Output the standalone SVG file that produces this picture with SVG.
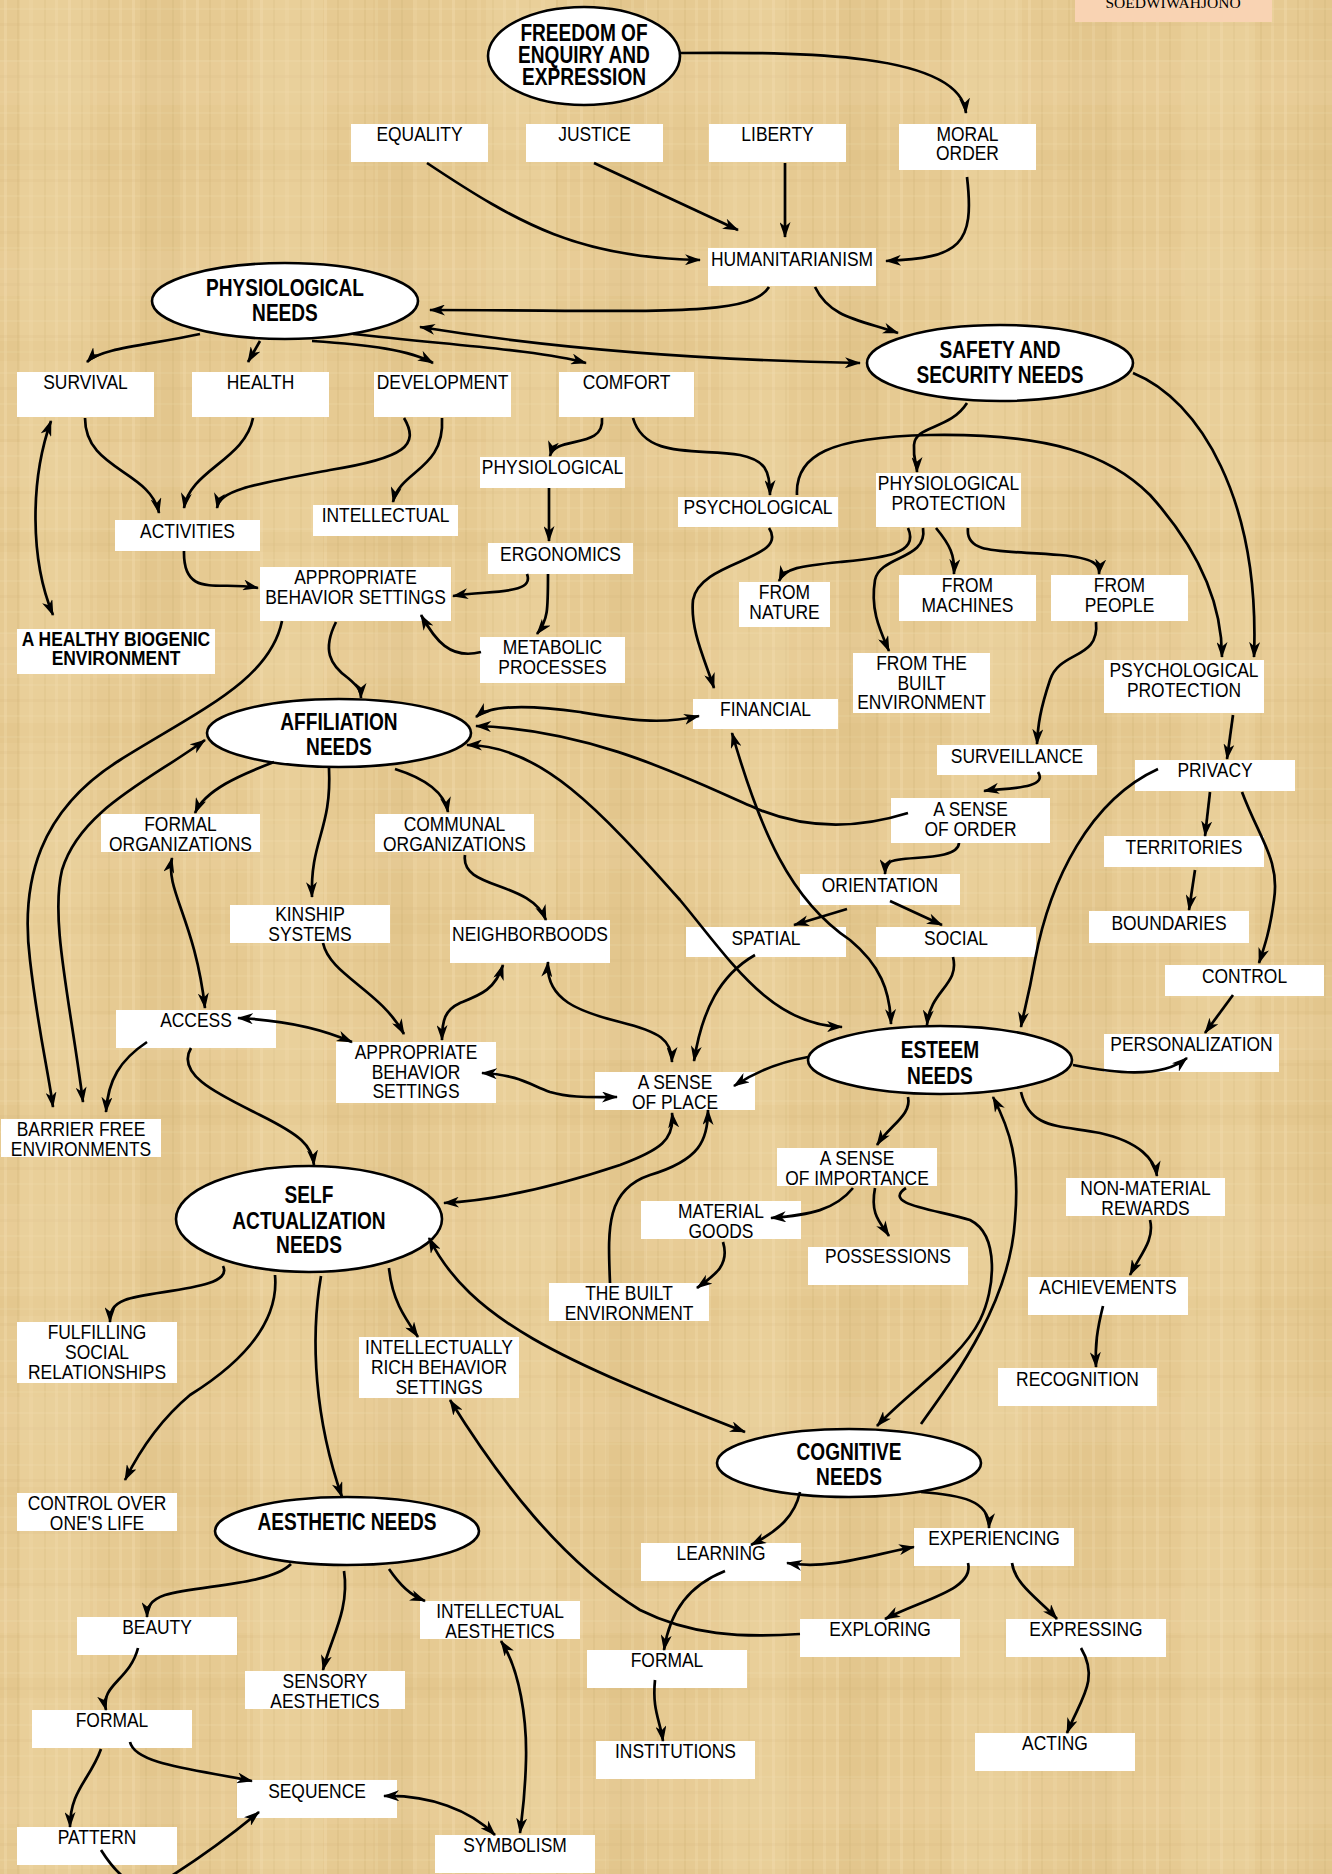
<svg xmlns="http://www.w3.org/2000/svg" width="1332" height="1874" viewBox="0 0 1332 1874">
<defs>
<style>
.t{font-family:"Liberation Sans",Arial,sans-serif;font-size:21px;text-anchor:middle;fill:#000;transform-box:fill-box;transform-origin:center;transform:scaleX(0.83)}
.b{font-weight:bold;font-size:23px}
.bx{fill:#fff}
.el{fill:#fff;stroke:#000;stroke-width:2.6}
.c path{fill:none;stroke:#000;stroke-width:2.7;marker-end:url(#ah)}
.c path.d{marker-start:url(#ah)}
</style>
<marker id="ah" markerUnits="userSpaceOnUse" markerWidth="16" markerHeight="11" viewBox="0 0 16 11" refX="15" refY="5.5" orient="auto-start-reverse">
<path d="M0,0 L16,5.5 L0,11 L4.5,5.5 z" fill="#000"/>
</marker>
<pattern id="pap" width="64" height="52" patternUnits="userSpaceOnUse">
<rect width="64" height="52" fill="#e6ca92"/>
<rect x="4" width="3" height="52" fill="#f3dfb0" opacity=".35"/>
<rect x="17" width="2" height="52" fill="#cdae70" opacity=".22"/>
<rect x="29" width="4" height="52" fill="#f0d9a6" opacity=".3"/>
<rect x="44" width="2" height="52" fill="#c9a968" opacity=".2"/>
<rect x="55" width="3" height="52" fill="#f2dfb0" opacity=".3"/>
<rect y="8" width="64" height="2" fill="#f1dcab" opacity=".22"/>
<rect y="23" width="64" height="3" fill="#cfb075" opacity=".15"/>
<rect y="39" width="64" height="2" fill="#f0d9a6" opacity=".22"/>
</pattern>
<pattern id="pap2" width="233" height="191" patternUnits="userSpaceOnUse">
<rect x="20" y="0" width="70" height="191" fill="#f4e2b6" opacity=".18"/>
<rect x="140" y="0" width="40" height="191" fill="#d2b273" opacity=".14"/>
<rect x="0" y="60" width="233" height="45" fill="#f3e0b2" opacity=".14"/>
<rect x="0" y="150" width="233" height="20" fill="#d0b070" opacity=".1"/>
</pattern>
</defs>
<rect width="1332" height="1874" fill="url(#pap)"/>
<rect width="1332" height="1874" fill="url(#pap2)"/>

<g id="author"><rect x="1075" y="0" width="197" height="22" fill="#f9d3b3"/><text x="1173" y="8" font-family="Liberation Serif,serif" font-size="15.5" text-anchor="middle">SOEDWIWAHJONO</text></g>

<g id="freedom"><ellipse class="el" cx="584" cy="56" rx="96" ry="49"/><text class="t b" x="584" y="41">FREEDOM OF</text><text class="t b" x="584" y="63">ENQUIRY AND</text><text class="t b" x="584" y="85">EXPRESSION</text></g>
<g id="equality"><rect class="bx" x="351" y="124" width="137" height="38"/><text class="t" x="419.5" y="141">EQUALITY</text></g>
<g id="justice"><rect class="bx" x="526" y="124" width="137" height="38"/><text class="t" x="594.5" y="141">JUSTICE</text></g>
<g id="liberty"><rect class="bx" x="709" y="124" width="137" height="38"/><text class="t" x="777.5" y="141">LIBERTY</text></g>
<g id="moral"><rect class="bx" x="899" y="124" width="137" height="46"/><text class="t" x="967.5" y="141">MORAL</text><text class="t" x="967.5" y="160">ORDER</text></g>
<g id="humanitarianism"><rect class="bx" x="708" y="248" width="168" height="38"/><text class="t" x="792" y="266">HUMANITARIANISM</text></g>

<g id="physneeds"><ellipse class="el" cx="285" cy="301" rx="133" ry="38"/><text class="t b" x="285" y="296">PHYSIOLOGICAL</text><text class="t b" x="285" y="321">NEEDS</text></g>
<g id="safety"><ellipse class="el" cx="1000" cy="363" rx="133" ry="38"/><text class="t b" x="1000" y="358">SAFETY AND</text><text class="t b" x="1000" y="383">SECURITY NEEDS</text></g>

<g id="survival"><rect class="bx" x="17" y="372" width="137" height="45"/><text class="t" x="85.5" y="389">SURVIVAL</text></g>
<g id="health"><rect class="bx" x="192" y="372" width="137" height="45"/><text class="t" x="260.5" y="389">HEALTH</text></g>
<g id="development"><rect class="bx" x="374" y="372" width="137" height="45"/><text class="t" x="442.5" y="389">DEVELOPMENT</text></g>
<g id="comfort"><rect class="bx" x="559" y="372" width="135" height="45"/><text class="t" x="626.5" y="389">COMFORT</text></g>
<g id="physiological"><rect class="bx" x="480" y="457" width="145" height="31"/><text class="t" x="552.5" y="474">PHYSIOLOGICAL</text></g>
<g id="activities"><rect class="bx" x="115" y="520" width="145" height="31"/><text class="t" x="187.5" y="538">ACTIVITIES</text></g>
<g id="intellectual"><rect class="bx" x="313" y="505" width="145" height="31"/><text class="t" x="385.5" y="522">INTELLECTUAL</text></g>
<g id="ergonomics"><rect class="bx" x="488" y="543" width="145" height="31"/><text class="t" x="560.5" y="561">ERGONOMICS</text></g>
<g id="abs1"><rect class="bx" x="260" y="567" width="191" height="54"/><text class="t" x="355.5" y="584">APPROPRIATE</text><text class="t" x="355.5" y="604">BEHAVIOR SETTINGS</text></g>
<g id="metabolic"><rect class="bx" x="480" y="637" width="145" height="46"/><text class="t" x="552.5" y="654">METABOLIC</text><text class="t" x="552.5" y="674">PROCESSES</text></g>
<g id="biogenic"><rect class="bx" x="17" y="629" width="198" height="45"/><text class="t" x="116" y="646" font-weight="bold">A HEALTHY BIOGENIC</text><text class="t" x="116" y="665" font-weight="bold">ENVIRONMENT</text></g>

<g id="affiliation"><ellipse class="el" cx="339" cy="733" rx="132" ry="34"/><text class="t b" x="339" y="730">AFFILIATION</text><text class="t b" x="339" y="755">NEEDS</text></g>
<g id="formalorg"><rect class="bx" x="101" y="814" width="159" height="38"/><text class="t" x="180.5" y="831">FORMAL</text><text class="t" x="180.5" y="851">ORGANIZATIONS</text></g>
<g id="communal"><rect class="bx" x="375" y="814" width="159" height="38"/><text class="t" x="454.5" y="831">COMMUNAL</text><text class="t" x="454.5" y="851">ORGANIZATIONS</text></g>
<g id="kinship"><rect class="bx" x="230" y="905" width="160" height="38"/><text class="t" x="310" y="921">KINSHIP</text><text class="t" x="310" y="941">SYSTEMS</text></g>
<g id="neighbor"><rect class="bx" x="450" y="920" width="160" height="43"/><text class="t" x="530" y="941">NEIGHBORBOODS</text></g>

<g id="psychological"><rect class="bx" x="678" y="497" width="160" height="30"/><text class="t" x="758" y="514">PSYCHOLOGICAL</text></g>
<g id="physprot"><rect class="bx" x="876" y="473" width="145" height="54"/><text class="t" x="948.5" y="490">PHYSIOLOGICAL</text><text class="t" x="948.5" y="510">PROTECTION</text></g>
<g id="fromnature"><rect class="bx" x="739" y="582" width="91" height="45"/><text class="t" x="784.5" y="599">FROM</text><text class="t" x="784.5" y="619">NATURE</text></g>
<g id="frommachines"><rect class="bx" x="899" y="575" width="137" height="46"/><text class="t" x="967.5" y="592">FROM</text><text class="t" x="967.5" y="612">MACHINES</text></g>
<g id="frompeople"><rect class="bx" x="1051" y="575" width="137" height="46"/><text class="t" x="1119.5" y="592">FROM</text><text class="t" x="1119.5" y="612">PEOPLE</text></g>
<g id="frombuilt"><rect class="bx" x="853" y="653" width="137" height="60"/><text class="t" x="921.5" y="670">FROM THE</text><text class="t" x="921.5" y="690">BUILT</text><text class="t" x="921.5" y="709">ENVIRONMENT</text></g>
<g id="psychprot"><rect class="bx" x="1104" y="660" width="160" height="53"/><text class="t" x="1184" y="677">PSYCHOLOGICAL</text><text class="t" x="1184" y="697">PROTECTION</text></g>
<g id="financial"><rect class="bx" x="693" y="699" width="145" height="30"/><text class="t" x="765.5" y="716">FINANCIAL</text></g>
<g id="surveillance"><rect class="bx" x="937" y="745" width="160" height="30"/><text class="t" x="1017" y="763">SURVEILLANCE</text></g>
<g id="privacy"><rect class="bx" x="1135" y="760" width="160" height="31"/><text class="t" x="1215" y="777">PRIVACY</text></g>
<g id="order"><rect class="bx" x="891" y="798" width="159" height="45"/><text class="t" x="970.5" y="816">A SENSE</text><text class="t" x="970.5" y="836">OF ORDER</text></g>
<g id="territories"><rect class="bx" x="1104" y="836" width="160" height="31"/><text class="t" x="1184" y="854">TERRITORIES</text></g>
<g id="orientation"><rect class="bx" x="800" y="874" width="160" height="31"/><text class="t" x="880" y="892">ORIENTATION</text></g>
<g id="spatial"><rect class="bx" x="686" y="927" width="160" height="30"/><text class="t" x="766" y="945">SPATIAL</text></g>
<g id="social"><rect class="bx" x="876" y="927" width="160" height="30"/><text class="t" x="956" y="945">SOCIAL</text></g>
<g id="boundaries"><rect class="bx" x="1089" y="911" width="160" height="32"/><text class="t" x="1169" y="930">BOUNDARIES</text></g>
<g id="control"><rect class="bx" x="1165" y="965" width="159" height="31"/><text class="t" x="1244.5" y="983">CONTROL</text></g>
<g id="personalization"><rect class="bx" x="1104" y="1034" width="175" height="38"/><text class="t" x="1191.5" y="1051">PERSONALIZATION</text></g>

<g id="esteem"><ellipse class="el" cx="940" cy="1060" rx="132" ry="34"/><text class="t b" x="940" y="1058">ESTEEM</text><text class="t b" x="940" y="1084">NEEDS</text></g>
<g id="importance"><rect class="bx" x="777" y="1148" width="160" height="38"/><text class="t" x="857" y="1165">A SENSE</text><text class="t" x="857" y="1185">OF IMPORTANCE</text></g>
<g id="material"><rect class="bx" x="641" y="1201" width="160" height="38"/><text class="t" x="721" y="1218">MATERIAL</text><text class="t" x="721" y="1238">GOODS</text></g>
<g id="possessions"><rect class="bx" x="808" y="1247" width="160" height="38"/><text class="t" x="888" y="1263">POSSESSIONS</text></g>
<g id="nonmaterial"><rect class="bx" x="1066" y="1178" width="159" height="38"/><text class="t" x="1145.5" y="1195">NON-MATERIAL</text><text class="t" x="1145.5" y="1215">REWARDS</text></g>
<g id="achievements"><rect class="bx" x="1028" y="1277" width="160" height="38"/><text class="t" x="1108" y="1294">ACHIEVEMENTS</text></g>
<g id="recognition"><rect class="bx" x="998" y="1368" width="159" height="38"/><text class="t" x="1077.5" y="1386">RECOGNITION</text></g>

<g id="access"><rect class="bx" x="116" y="1010" width="160" height="38"/><text class="t" x="196" y="1027">ACCESS</text></g>
<g id="abs2"><rect class="bx" x="336" y="1042" width="160" height="61"/><text class="t" x="416" y="1059">APPROPRIATE</text><text class="t" x="416" y="1079">BEHAVIOR</text><text class="t" x="416" y="1098">SETTINGS</text></g>
<g id="place"><rect class="bx" x="595" y="1072" width="160" height="38"/><text class="t" x="675" y="1089">A SENSE</text><text class="t" x="675" y="1109">OF PLACE</text></g>
<g id="barrier"><rect class="bx" x="1" y="1119" width="160" height="38"/><text class="t" x="81" y="1136">BARRIER FREE</text><text class="t" x="81" y="1156">ENVIRONMENTS</text></g>

<g id="selfact"><ellipse class="el" cx="309" cy="1219" rx="133" ry="53"/><text class="t b" x="309" y="1203">SELF</text><text class="t b" x="309" y="1229">ACTUALIZATION</text><text class="t b" x="309" y="1253">NEEDS</text></g>
<g id="builtenv"><rect class="bx" x="549" y="1283" width="160" height="38"/><text class="t" x="629" y="1300">THE BUILT</text><text class="t" x="629" y="1320">ENVIRONMENT</text></g>
<g id="fulfilling"><rect class="bx" x="17" y="1322" width="160" height="61"/><text class="t" x="97" y="1339">FULFILLING</text><text class="t" x="97" y="1359">SOCIAL</text><text class="t" x="97" y="1379">RELATIONSHIPS</text></g>
<g id="intrich"><rect class="bx" x="359" y="1337" width="160" height="61"/><text class="t" x="439" y="1354">INTELLECTUALLY</text><text class="t" x="439" y="1374">RICH BEHAVIOR</text><text class="t" x="439" y="1394">SETTINGS</text></g>
<g id="controllife"><rect class="bx" x="17" y="1493" width="160" height="38"/><text class="t" x="97" y="1510">CONTROL OVER</text><text class="t" x="97" y="1530">ONE'S LIFE</text></g>

<g id="aesthetic"><ellipse class="el" cx="347" cy="1531" rx="132" ry="34"/><text class="t b" x="347" y="1530">AESTHETIC NEEDS</text></g>
<g id="beauty"><rect class="bx" x="77" y="1617" width="160" height="38"/><text class="t" x="157" y="1634">BEAUTY</text></g>
<g id="intaesth"><rect class="bx" x="420" y="1601" width="160" height="38"/><text class="t" x="500" y="1618">INTELLECTUAL</text><text class="t" x="500" y="1638">AESTHETICS</text></g>
<g id="sensory"><rect class="bx" x="245" y="1671" width="160" height="38"/><text class="t" x="325" y="1688">SENSORY</text><text class="t" x="325" y="1708">AESTHETICS</text></g>
<g id="formal1"><rect class="bx" x="32" y="1710" width="160" height="38"/><text class="t" x="112" y="1727">FORMAL</text></g>
<g id="sequence"><rect class="bx" x="237" y="1780" width="160" height="38"/><text class="t" x="317" y="1798">SEQUENCE</text></g>
<g id="pattern"><rect class="bx" x="17" y="1827" width="160" height="38"/><text class="t" x="97" y="1844">PATTERN</text></g>
<g id="symbolism"><rect class="bx" x="435" y="1835" width="160" height="38"/><text class="t" x="515" y="1852">SYMBOLISM</text></g>

<g id="cognitive"><ellipse class="el" cx="849" cy="1463" rx="132" ry="34"/><text class="t b" x="849" y="1460">COGNITIVE</text><text class="t b" x="849" y="1485">NEEDS</text></g>
<g id="learning"><rect class="bx" x="641" y="1543" width="160" height="38"/><text class="t" x="721" y="1560">LEARNING</text></g>
<g id="experiencing"><rect class="bx" x="914" y="1528" width="160" height="38"/><text class="t" x="994" y="1545">EXPERIENCING</text></g>
<g id="exploring"><rect class="bx" x="800" y="1619" width="160" height="38"/><text class="t" x="880" y="1636">EXPLORING</text></g>
<g id="expressing"><rect class="bx" x="1006" y="1619" width="160" height="38"/><text class="t" x="1086" y="1636">EXPRESSING</text></g>
<g id="formal2"><rect class="bx" x="587" y="1650" width="160" height="38"/><text class="t" x="667" y="1667">FORMAL</text></g>
<g id="institutions"><rect class="bx" x="596" y="1741" width="159" height="38"/><text class="t" x="675.5" y="1758">INSTITUTIONS</text></g>
<g id="acting"><rect class="bx" x="975" y="1733" width="160" height="38"/><text class="t" x="1055" y="1750">ACTING</text></g>

<g id="connectors" class="c">
<path d="M679,53 C800,52 960,52 966,113"/>
<path d="M427,163 C520,225 580,258 700,260"/>
<path d="M594,163 L738,230"/>
<path d="M785,163 L785,237"/>
<path d="M967,177 C975,245 960,258 886,261"/>
<path d="M769,287 C750,318 650,310 430,310"/>
<path d="M815,287 C830,318 860,320 898,333"/>
<path class="d" d="M420,327 C550,348 700,360 860,363"/>
<path d="M200,334 C150,345 100,348 87,362"/>
<path d="M260,341 L248,362"/>
<path d="M312,341 C370,345 410,350 433,363"/>
<path d="M353,334 C450,345 540,350 586,363"/>
<path d="M85,418 C85,470 150,470 159,513"/>
<path d="M253,418 C245,460 190,470 184,508"/>
<path d="M404,418 C420,445 405,458 330,470 C250,485 220,490 217,508"/>
<path d="M442,418 C445,470 400,470 393,502"/>
<path d="M602,418 C605,450 555,435 550,456"/>
<path d="M633,418 C645,460 700,448 740,455 C765,460 770,470 770,495"/>
<path d="M549,488 L549,541"/>
<path d="M527,574 C535,595 490,590 453,596"/>
<path d="M548,574 C548,610 548,620 537,634"/>
<path d="M481,652 C450,660 435,640 421,615"/>
<path d="M184,551 C183,600 220,580 258,588"/>
<path class="d" d="M51,421 C30,480 30,560 53,615"/>
<path d="M282,621 C270,680 200,710 120,760 C40,810 20,880 30,960 C38,1030 48,1070 53,1107"/>
<path class="d" d="M205,740 C150,780 80,810 62,870 C50,920 70,1000 83,1102"/>
<path d="M274,762 C240,775 205,790 195,813"/>
<path d="M329,768 C332,830 310,840 312,897"/>
<path d="M395,769 C430,780 445,795 448,812"/>
<path d="M465,855 C460,890 530,880 546,920"/>
<path d="M336,622 C322,650 330,665 348,678 C360,688 361,692 361,698"/>
<path class="d" d="M476,717 C490,705 530,705 580,712 C630,720 660,725 699,716"/>
<path d="M908,813 C860,828 810,830 760,810 C700,785 600,730 476,726"/>
<path class="d" d="M467,745 C540,745 600,810 680,900 C730,960 770,1025 842,1027"/>
<path class="d" d="M732,733 C760,830 790,900 850,940 C880,965 890,990 891,1024"/>
<path d="M769,528 C790,560 700,560 693,600 C690,630 705,660 714,688"/>
<path d="M967,403 C950,430 915,425 914,445 C913,460 917,465 917,472"/>
<path d="M797,495 C795,455 830,437 930,435 C1050,433 1110,455 1150,495 C1195,545 1222,600 1222,657"/>
<path d="M1133,373 C1200,400 1260,500 1254,657"/>
<path d="M908,528 C920,555 880,558 840,562 C800,566 785,568 779,581"/>
<path d="M923,528 C928,560 880,555 875,580 C870,610 880,630 889,651"/>
<path d="M936,528 C950,545 955,555 954,574"/>
<path d="M968,528 C965,555 1000,550 1060,555 C1095,558 1100,565 1099,574"/>
<path d="M1096,622 C1100,660 1060,650 1050,680 C1040,710 1038,725 1037,744"/>
<path d="M1038,772 C1050,790 1000,788 984,791"/>
<path d="M959,843 C958,862 900,855 890,862 C886,866 885,870 885,874"/>
<path d="M847,909 L794,925"/>
<path d="M890,901 L942,925"/>
<path d="M953,957 C960,985 930,990 927,1025"/>
<path d="M1233,715 L1227,759"/>
<path d="M1210,792 L1205,836"/>
<path d="M1195,870 L1189,910"/>
<path d="M1242,792 C1260,840 1280,860 1274,900 C1270,930 1265,945 1259,963"/>
<path d="M1158,769 C1090,800 1050,880 1035,960 C1028,1000 1023,1015 1021,1027"/>
<path d="M1233,995 L1205,1033"/>
<path d="M1073,1065 C1110,1072 1160,1080 1187,1058"/>
<path d="M808,1057 C780,1062 755,1072 734,1086"/>
<path d="M755,955 C720,975 702,1010 694,1061"/>
<path d="M908,1097 C912,1115 890,1125 877,1145"/>
<path d="M1021,1092 C1030,1130 1060,1125 1100,1133 C1140,1142 1155,1160 1157,1176"/>
<path d="M1150,1220 C1155,1240 1140,1255 1130,1275"/>
<path d="M1103,1306 C1097,1330 1095,1345 1096,1367"/>
<path d="M853,1188 C835,1210 810,1215 771,1218"/>
<path d="M875,1188 C870,1215 880,1222 889,1236"/>
<path d="M906,1188 C880,1205 940,1210 970,1220 C1000,1235 995,1290 980,1320 C960,1360 910,1390 877,1426"/>
<path d="M921,1424 C960,1370 1010,1300 1015,1220 C1020,1160 1010,1130 993,1097"/>
<path class="d" d="M548,962 C545,1000 580,1012 620,1022 C660,1032 672,1040 672,1062"/>
<path class="d" d="M672,1113 C675,1140 660,1150 620,1165 C560,1185 500,1200 444,1203"/>
<path d="M610,1283 C608,1230 605,1190 650,1175 C700,1160 708,1140 708,1110"/>
<path d="M723,1242 C730,1265 715,1275 697,1288"/>
<path class="d" d="M482,1073 C520,1075 530,1085 550,1092 C570,1098 590,1097 617,1097"/>
<path d="M323,943 C330,975 380,990 404,1034"/>
<path class="d" d="M503,965 C495,990 480,995 460,1003 C445,1010 442,1020 442,1040"/>
<path class="d" d="M238,1018 C280,1020 320,1028 352,1042"/>
<path class="d" d="M172,858 C165,890 195,920 205,1008"/>
<path d="M147,1042 C120,1060 108,1080 106,1112"/>
<path d="M191,1048 C175,1075 220,1095 260,1115 C300,1135 312,1145 314,1165"/>
<path d="M223,1266 C235,1290 150,1290 125,1300 C112,1305 110,1312 110,1322"/>
<path d="M275,1275 C280,1330 230,1370 190,1395 C160,1420 140,1450 125,1480"/>
<path d="M321,1276 C310,1340 315,1420 342,1497"/>
<path d="M389,1268 C392,1300 405,1318 418,1337"/>
<path class="d" d="M429,1238 C470,1320 560,1360 745,1432"/>
<path d="M800,1634 C740,1638 690,1635 640,1610 C560,1560 500,1480 450,1400"/>
<path d="M291,1564 C270,1585 200,1585 165,1595 C150,1600 147,1608 147,1617"/>
<path d="M344,1571 C350,1610 330,1640 323,1670"/>
<path d="M389,1569 C400,1585 410,1595 425,1601"/>
<path d="M138,1648 C130,1680 100,1685 106,1710"/>
<path class="d" d="M501,1641 C520,1670 527,1720 526,1760 C525,1800 522,1815 520,1833"/>
<path d="M101,1749 C90,1780 70,1790 70,1827"/>
<path d="M130,1742 C135,1765 200,1770 252,1781"/>
<path class="d" d="M384,1796 C430,1795 470,1810 495,1835"/>
<path d="M101,1850 C120,1880 140,1895 165,1880 C200,1858 230,1836 259,1812"/>
<path d="M800,1492 C795,1515 780,1530 751,1545"/>
<path d="M921,1492 C960,1495 990,1500 989,1528"/>
<path class="d" d="M787,1563 C830,1570 870,1555 914,1547"/>
<path d="M725,1571 C690,1585 670,1610 664,1650"/>
<path d="M655,1680 C652,1710 660,1720 663,1741"/>
<path d="M968,1563 C975,1590 920,1600 885,1619"/>
<path d="M1012,1563 C1015,1585 1040,1600 1057,1619"/>
<path d="M1081,1648 C1100,1680 1080,1700 1067,1733"/>
</g>
</svg>
